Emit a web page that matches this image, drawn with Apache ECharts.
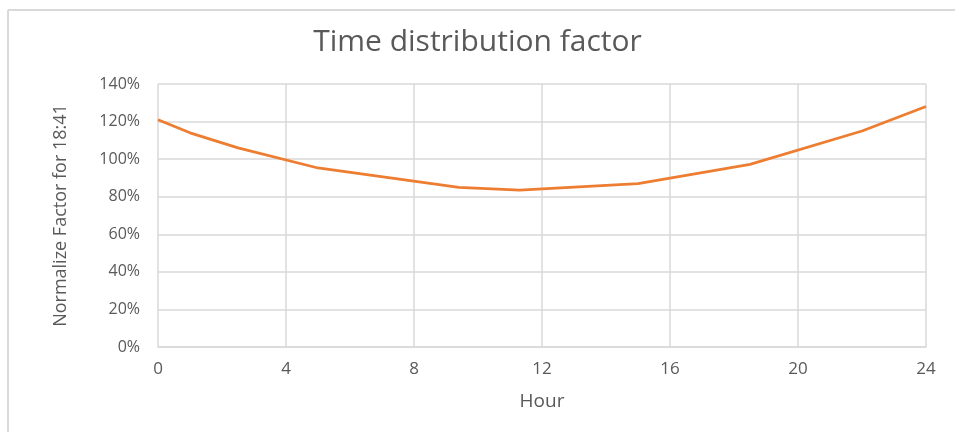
<!DOCTYPE html>
<html>
<head>
<meta charset="utf-8">
<script src="https://cdn.jsdelivr.net/npm/echarts@6/dist/echarts.min.js"></script>
<style>html,body{margin:0;padding:0;background:#fff;}#c{width:955px;height:432px;}</style>
</head>
<body>
<div id="c"></div>
<script>
const titleText = 'Time distribution factor';
const xAxisName = 'Hour';
const yAxisName = 'Normalize Factor for 18:41';
const hours = [0, 1, 2.5, 5, 9.4, 11.3, 15, 18.5, 22, 24];
const factorPct = [121, 114, 106, 95.3, 85, 83.5, 87, 97.2, 115, 128];

const chart = echarts.init(document.getElementById('c'), null, {renderer: 'canvas'});
const font = '"Open Sans", "Liberation Sans", sans-serif';
const txt = '#595959';
chart.setOption({
  animation: false,
  backgroundColor: '#ffffff',
  title: {
    text: titleText, left: 'center', top: 22,
    textStyle: {fontFamily: font, fontSize: 30, fontWeight: 'normal', color: txt}
  },
  graphic: [
    {type: 'line', shape: {x1: 8, y1: 10, x2: 955, y2: 10}, style: {stroke: '#d9d9d9', lineWidth: 2}},
    {type: 'line', shape: {x1: 8, y1: 10, x2: 8, y2: 432}, style: {stroke: '#d9d9d9', lineWidth: 2}}
  ],
  grid: {left: 158, right: 29, top: 84, bottom: 85},
  xAxis: {
    type: 'value', min: 0, max: 24, interval: 4,
    name: xAxisName, nameLocation: 'middle', nameGap: 45,
    nameTextStyle: {fontFamily: font, fontSize: 19, color: txt},
    axisLine: {show: true, lineStyle: {color: '#d9d9d9', width: 1.5}},
    axisTick: {show: false},
    axisLabel: {fontFamily: font, fontSize: 17, color: txt, margin: 14},
    splitLine: {show: true, lineStyle: {color: '#d9d9d9', width: 1.5}}
  },
  yAxis: {
    type: 'value', min: 0, max: 140, interval: 20,
    name: yAxisName, nameLocation: 'middle', nameGap: 88, nameRotate: 90,
    nameTextStyle: {fontFamily: font, fontSize: 18, color: txt},
    axisLine: {show: false},
    axisTick: {show: false},
    axisLabel: {fontFamily: font, fontSize: 16, color: txt, margin: 18, formatter: v => v + '%'},
    splitLine: {show: true, lineStyle: {color: '#d9d9d9', width: 1.5}}
  },
  series: [{
    type: 'line',
    data: hours.map((h, i) => [h, factorPct[i]]),
    showSymbol: false,
    lineStyle: {color: '#ED7D31', width: 2.75},
    itemStyle: {color: '#ED7D31'}
  }]
});
</script>
</body>
</html>
